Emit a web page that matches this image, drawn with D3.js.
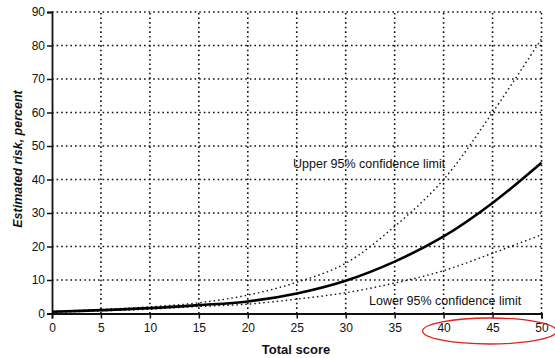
<!DOCTYPE html>
<html>
<head>
<meta charset="utf-8">
<script src="https://cdn.jsdelivr.net/npm/d3@7"></script>
<style>
  body { margin: 0; background: #fff; }
  text { font-family: "Liberation Sans", Arial, sans-serif; fill: #111; }
</style>
</head>
<body>
<div id="chart"></div>
<script>
// values
var scores = [0, 5, 10, 15, 20, 25, 30, 35, 40, 45, 50];
var risk   = [0.5, 1.0, 1.6, 2.5, 3.6, 6.0, 9.8, 15.5, 23, 33, 45];
var upper  = [0.6, 1.2, 2.0, 3.2, 5.5, 9.3, 15, 26, 40, 60, 82];
var lower  = [0.4, 0.8, 1.3, 2.1, 2.8, 4.3, 6.2, 9.1, 12.8, 18, 23.5];
var xTicks = [0, 5, 10, 15, 20, 25, 30, 35, 40, 45, 50];
var yTicks = [0, 10, 20, 30, 40, 50, 60, 70, 80, 90];

var W = 555, H = 358;
var svg = d3.select("#chart").append("svg")
  .attr("width", W).attr("height", H);

var x = d3.scaleLinear().domain([0, 50]).range([52, 541.5]);
var y = d3.scaleLinear().domain([0, 90]).range([313.5, 12]);

var dots = "1.6,3";

// grid
svg.selectAll(".vg").data(xTicks.slice(1)).enter().append("line")
  .attr("x1", function(d) { return x(d); }).attr("x2", function(d) { return x(d); })
  .attr("y1", y(0)).attr("y2", y(90))
  .attr("stroke", "#111").attr("stroke-width", 1.6).attr("stroke-dasharray", dots);
svg.selectAll(".hg").data(yTicks.slice(1)).enter().append("line")
  .attr("x1", x(0)).attr("x2", x(50))
  .attr("y1", function(d) { return y(d); }).attr("y2", function(d) { return y(d); })
  .attr("stroke", "#111").attr("stroke-width", 1.6).attr("stroke-dasharray", dots);

// axes
var xAxis = svg.append("g").attr("transform", "translate(0," + y(0) + ")")
  .call(d3.axisBottom(x).tickValues(xTicks).tickSize(5).tickPadding(5));
var yAxis = svg.append("g").attr("transform", "translate(" + x(0) + ",0)")
  .call(d3.axisLeft(y).tickValues(yTicks).tickSize(5).tickPadding(2));
[xAxis, yAxis].forEach(function(g) {
  g.select(".domain").attr("stroke", "#111").attr("stroke-width", 1.8);
  g.selectAll(".tick line").attr("stroke", "#111").attr("stroke-width", 1.5);
  g.selectAll("text").style("font-size", "12px").attr("fill", "#111");
});

// curves
var line = d3.line()
  .x(function(d) { return x(d[0]); })
  .y(function(d) { return y(d[1]); })
  .curve(d3.curveCatmullRom.alpha(0.5));

svg.append("path").datum(d3.zip(scores, upper))
  .attr("d", line).attr("fill", "none")
  .attr("stroke", "#111").attr("stroke-width", 1.4).attr("stroke-dasharray", "1.5,3");
svg.append("path").datum(d3.zip(scores, lower))
  .attr("d", line).attr("fill", "none")
  .attr("stroke", "#111").attr("stroke-width", 1.4).attr("stroke-dasharray", "1.5,3");
svg.append("path").datum(d3.zip(scores, risk))
  .attr("d", line).attr("fill", "none")
  .attr("stroke", "#000").attr("stroke-width", 2.6);

// labels
svg.append("text").attr("x", 293).attr("y", 168)
  .style("font-size", "12.5px").text("Upper 95% confidence limit");
svg.append("text").attr("x", 369).attr("y", 305)
  .style("font-size", "12.5px").text("Lower 95% confidence limit");

svg.append("text").attr("x", 296).attr("y", 354)
  .attr("text-anchor", "middle")
  .style("font-size", "13px").style("font-weight", "bold")
  .text("Total score");
svg.append("text")
  .attr("transform", "translate(22,159) rotate(-90)")
  .attr("text-anchor", "middle")
  .style("font-size", "12.5px").style("font-weight", "bold").style("font-style", "italic")
  .text("Estimated risk, percent");

// red highlight around 40-50 labels
svg.append("ellipse")
  .attr("cx", (x(40) + x(50)) / 2 - 3).attr("cy", 331)
  .attr("rx", 67).attr("ry", 13)
  .attr("fill", "none").attr("stroke", "#e02020").attr("stroke-width", 1.3);
</script>
</body>
</html>
